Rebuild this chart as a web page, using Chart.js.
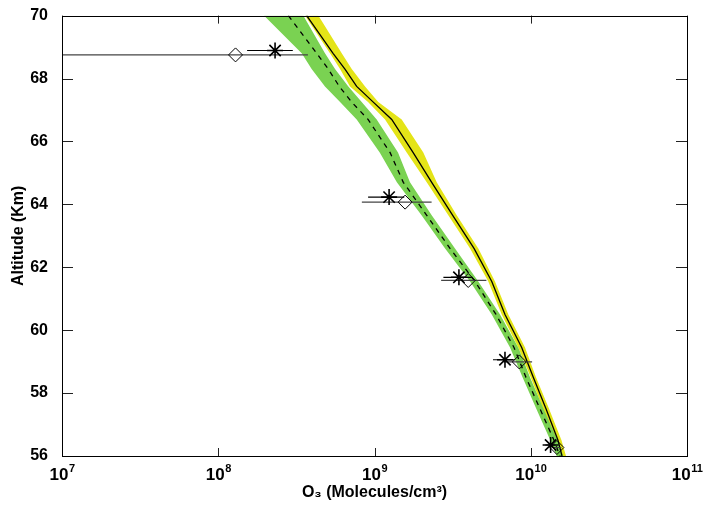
<!DOCTYPE html>
<html>
<head>
<meta charset="utf-8">
<script src="https://cdn.jsdelivr.net/npm/chart.js@4.4.1/dist/chart.umd.min.js"></script>
<style>
  html, body { margin: 0; padding: 0; background: #fff; }
</style>
</head>
<body>
<canvas id="chart" width="704" height="506"></canvas>
<script>
// altitudes (km) where the two model profiles were read
const altitudes = [70, 68.8, 68.3, 67.75, 67.25, 66.7, 65.65, 64.7, 63.65, 62.6, 61.55, 60.5, 59.45, 58.5, 57.5, 56.5, 56];

// green model: band edges and dashed mean (molecules/cm3)
const greenLow = [1.96e8, 3.42e8, 3.96e8, 4.82e8, 6.02e8, 7.69e8, 1.08e9, 1.39e9, 2.00e9, 2.83e9, 4.09e9, 5.63e9, 7.37e9, 8.86e9, 1.085e10, 1.334e10, 1.466e10];
const greenHigh = [3.50e8, 4.82e8, 5.59e8, 6.80e8, 8.28e8, 1.033e9, 1.414e9, 1.687e9, 2.323e9, 3.275e9, 4.617e9, 6.357e9, 8.323e9, 9.89e9, 1.207e10, 1.483e10, 1.615e10];
const greenMean = [2.81e8, 4.27e8, 5.06e8, 5.95e8, 7.15e8, 9.09e8, 1.257e9, 1.529e9, 2.159e9, 3.042e9, 4.398e9, 5.993e9, 7.813e9, 9.32e9, 1.146e10, 1.409e10, 1.539e10];

// yellow model: band edges and solid mean
const yellowLow = [3.59e8, 5.19e8, 6.02e8, 6.97e8, 9.09e8, 1.168e9, 1.607e9, 2.159e9, 2.967e9, 4.09e9, 5.35e9, 6.52e9, 8.32e9, 9.99e9, 1.198e10, 1.451e10, 1.562e10];
const yellowHigh = [4.37e8, 6.17e8, 7.15e8, 8.70e8, 1.057e9, 1.493e9, 2.053e9, 2.501e9, 3.358e9, 4.617e9, 5.905e9, 7.184e9, 9.19e9, 1.08e10, 1.309e10, 1.573e10, 1.681e10];
const yellowMean = [3.68e8, 5.43e8, 6.47e8, 7.69e8, 9.82e8, 1.289e9, 1.764e9, 2.323e9, 3.166e9, 4.334e9, 5.63e9, 6.842e9, 8.75e9, 1.038e10, 1.252e10, 1.494e10, 1.585e10];

// measurements: asterisks
const starAlt = [68.89, 64.23, 61.68, 59.06, 56.35];
const starVal = [2.31e8, 1.24e9, 3.47e9, 6.84e9, 1.34e10];
const starLow = [1.53e8, 9.1e8, 2.76e9, 5.73e9, 1.24e10];
const starHigh = [3.0e8, 1.55e9, 4.18e9, 7.95e9, 1.44e10];

// measurements: diamonds
const diamondAlt = [68.75, 64.07, 61.58, 58.99, 56.27];
const diamondVal = [1.29e8, 1.57e9, 3.98e9, 8.45e9, 1.47e10];
const diamondLow = [1e6, 8.3e8, 2.67e9, 6.7e9, 1.37e10];
const diamondHigh = [3.75e8, 2.32e9, 5.2e9, 1.02e10, 1.57e10];

// axes
const xTicks = [1e7, 1e8, 1e9, 1e10, 1e11];
const xTickExponents = ['7', '8', '9', '10', '11'];
const yTicks = [56, 58, 60, 62, 64, 66, 68, 70];

const GREEN = 'rgb(122,210,82)';
const YELLOW = 'rgb(228,228,24)';
const FONT = 'Liberation Sans, Arial, Helvetica, sans-serif';

const profile = vals => vals.map((v, i) => ({ x: v, y: altitudes[i] }));

function edge(vals, fill, color, order) {
    return {
        data: profile(vals),
        borderColor: 'rgba(0,0,0,0)',
        borderWidth: 0,
        backgroundColor: color,
        pointRadius: 0,
        fill: fill,
        order: order
    };
}

const datasets = [
    edge(yellowLow, '+1', YELLOW, 10),
    edge(yellowHigh, false, YELLOW, 10),
    edge(greenLow, '+1', GREEN, 9),
    edge(greenHigh, false, GREEN, 9),
    {
        data: profile(yellowMean),
        borderColor: '#000',
        borderWidth: 1.3,
        pointRadius: 0,
        order: 5
    },
    {
        data: profile(greenMean),
        borderColor: '#000',
        borderWidth: 1.3,
        borderDash: [5, 5],
        pointRadius: 0,
        order: 5
    }
];

// horizontal error bars
diamondAlt.forEach((a, i) => {
    datasets.push({
        data: [{ x: diamondLow[i], y: a }, { x: diamondHigh[i], y: a }],
        borderColor: '#444',
        borderWidth: 1.2,
        pointRadius: 0,
        order: 3
    });
});
starAlt.forEach((a, i) => {
    datasets.push({
        data: [{ x: starLow[i], y: a }, { x: starHigh[i], y: a }],
        borderColor: '#000',
        borderWidth: 1.2,
        pointRadius: 0,
        order: 3
    });
});

datasets.push({
    data: diamondVal.map((v, i) => ({ x: v, y: diamondAlt[i] })),
    showLine: false,
    pointStyle: 'rectRot',
    pointRadius: 7,
    pointBackgroundColor: 'rgba(0,0,0,0)',
    pointBorderColor: '#000',
    pointBorderWidth: 1,
    order: 1
});
datasets.push({
    data: starVal.map((v, i) => ({ x: v, y: starAlt[i] })),
    showLine: false,
    pointStyle: 'star',
    pointRadius: 8,
    pointBorderColor: '#000',
    pointBorderWidth: 1.6,
    order: 1
});

// inward ticks on all four sides, the box, and 10^n labels under the x axis
const boxTicks = {
    id: 'boxTicks',
    afterDatasetsDraw(chart) {
        const { ctx, chartArea: a, scales: { x, y } } = chart;
        ctx.save();
        ctx.strokeStyle = '#222';
        ctx.lineWidth = 1;
        ctx.beginPath();
        xTicks.forEach(v => {
            const px = Math.round(x.getPixelForValue(v)) + 0.5;
            ctx.moveTo(px, a.bottom); ctx.lineTo(px, a.bottom - 8);
            ctx.moveTo(px, a.top); ctx.lineTo(px, a.top + 8);
        });
        yTicks.forEach(v => {
            const py = Math.round(y.getPixelForValue(v)) + 0.5;
            ctx.moveTo(a.left, py); ctx.lineTo(a.left + 11, py);
            ctx.moveTo(a.right, py); ctx.lineTo(a.right - 11, py);
        });
        ctx.stroke();
        ctx.strokeStyle = '#000';
        ctx.strokeRect(Math.round(a.left) + 0.5, Math.round(a.top) + 0.5,
            Math.round(a.right - a.left), Math.round(a.bottom - a.top));

        ctx.fillStyle = '#000';
        ctx.textBaseline = 'alphabetic';
        ctx.textAlign = 'left';
        xTicks.forEach((v, i) => {
            const px = x.getPixelForValue(v);
            ctx.font = 'bold 17px ' + FONT;
            const w1 = ctx.measureText('10').width;
            ctx.font = 'bold 11px ' + FONT;
            const w2 = ctx.measureText(xTickExponents[i]).width;
            const x0 = px - (w1 + w2) / 2;
            ctx.font = 'bold 17px ' + FONT;
            ctx.fillText('10', x0, a.bottom + 24);
            ctx.font = 'bold 11px ' + FONT;
            ctx.fillText(xTickExponents[i], x0 + w1 + 0.5, a.bottom + 16);
        });
        ctx.restore();
    }
};

new Chart(document.getElementById('chart'), {
    type: 'line',
    data: { datasets: datasets },
    plugins: [boxTicks],
    options: {
        responsive: false,
        animation: false,
        indexAxis: 'y',
        layout: { padding: { top: 12, right: 17, left: 0, bottom: 0 } },
        plugins: {
            legend: { display: false },
            tooltip: { enabled: false }
        },
        elements: { line: { tension: 0 } },
        scales: {
            x: {
                type: 'logarithmic',
                min: 1e7,
                max: 1e11,
                grid: { display: false },
                border: { display: false },
                afterBuildTicks: s => { s.ticks = xTicks.map(v => ({ value: v })); },
                afterFit: s => { s.height = 50; },
                ticks: { display: false },
                title: {
                    display: true,
                    text: 'O\u2083 (Molecules/cm\u00b3)',
                    color: '#000',
                    padding: { top: 0, bottom: 4 },
                    font: { family: FONT, size: 16, weight: 'bold' }
                }
            },
            y: {
                type: 'linear',
                min: 56,
                max: 70,
                grid: { display: false },
                border: { display: false },
                afterBuildTicks: s => { s.ticks = yTicks.map(v => ({ value: v })); },
                afterFit: s => { s.width = 62; },
                ticks: {
                    color: '#000',
                    padding: 6,
                    autoSkip: false,
                    font: { family: FONT, size: 16, weight: 'bold' }
                },
                title: {
                    display: true,
                    text: 'Altitude (Km)',
                    color: '#000',
                    padding: { top: 9, bottom: 0 },
                    font: { family: FONT, size: 16, weight: 'bold' }
                }
            }
        }
    }
});
</script>
</body>
</html>
